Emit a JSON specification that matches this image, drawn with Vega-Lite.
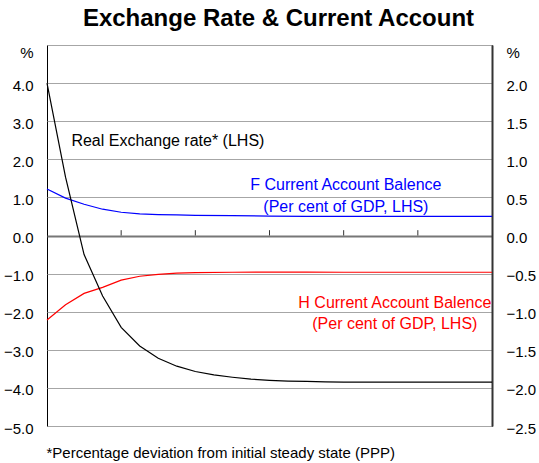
{
  "$schema": "https://vega.github.io/schema/vega-lite/v6.json",
  "width": 445,
  "height": 381,
  "autosize": {"type": "none"},
  "padding": {"left": 47, "top": 45, "right": 47, "bottom": 37},
  "config": {
    "font": "Liberation Sans",
    "view": {"stroke": "black", "strokeWidth": 1}
  },
  "title": {
    "text": "Exchange Rate & Current Account",
    "font": "Liberation Sans",
    "fontSize": 24,
    "fontWeight": "bold",
    "color": "black",
    "anchor": "middle",
    "baseline": "alphabetic",
    "frame": "group",
    "offset": -8,
    "dx": 9
  },
  "datasets": {
    "series": [
      {"x": 0, "value": 1.22, "series": "F"},
      {"x": 0.25, "value": 0.98, "series": "F"},
      {"x": 0.5, "value": 0.82, "series": "F"},
      {"x": 0.75, "value": 0.69, "series": "F"},
      {"x": 1, "value": 0.61, "series": "F"},
      {"x": 1.25, "value": 0.57, "series": "F"},
      {"x": 1.5, "value": 0.55, "series": "F"},
      {"x": 1.75, "value": 0.54, "series": "F"},
      {"x": 2, "value": 0.53, "series": "F"},
      {"x": 2.5, "value": 0.52, "series": "F"},
      {"x": 3, "value": 0.51, "series": "F"},
      {"x": 3.5, "value": 0.5, "series": "F"},
      {"x": 4, "value": 0.5, "series": "F"},
      {"x": 5, "value": 0.5, "series": "F"},
      {"x": 6, "value": 0.5, "series": "F"},
      {"x": 0, "value": -2.22, "series": "H"},
      {"x": 0.25, "value": -1.82, "series": "H"},
      {"x": 0.5, "value": -1.52, "series": "H"},
      {"x": 0.75, "value": -1.36, "series": "H"},
      {"x": 1, "value": -1.17, "series": "H"},
      {"x": 1.25, "value": -1.07, "series": "H"},
      {"x": 1.5, "value": -1.02, "series": "H"},
      {"x": 1.75, "value": -0.99, "series": "H"},
      {"x": 2, "value": -0.975, "series": "H"},
      {"x": 2.5, "value": -0.965, "series": "H"},
      {"x": 3, "value": -0.96, "series": "H"},
      {"x": 3.5, "value": -0.96, "series": "H"},
      {"x": 4, "value": -0.965, "series": "H"},
      {"x": 5, "value": -0.965, "series": "H"},
      {"x": 6, "value": -0.965, "series": "H"},
      {"x": 0, "value": 4.0, "series": "R"},
      {"x": 0.25, "value": 1.53, "series": "R"},
      {"x": 0.5, "value": -0.5, "series": "R"},
      {"x": 0.75, "value": -1.59, "series": "R"},
      {"x": 1, "value": -2.41, "series": "R"},
      {"x": 1.25, "value": -2.9, "series": "R"},
      {"x": 1.5, "value": -3.22, "series": "R"},
      {"x": 1.75, "value": -3.43, "series": "R"},
      {"x": 2, "value": -3.57, "series": "R"},
      {"x": 2.25, "value": -3.66, "series": "R"},
      {"x": 2.5, "value": -3.72, "series": "R"},
      {"x": 2.75, "value": -3.77, "series": "R"},
      {"x": 3, "value": -3.8, "series": "R"},
      {"x": 3.25, "value": -3.82, "series": "R"},
      {"x": 3.5, "value": -3.83, "series": "R"},
      {"x": 3.75, "value": -3.84, "series": "R"},
      {"x": 4, "value": -3.85, "series": "R"},
      {"x": 4.5, "value": -3.85, "series": "R"},
      {"x": 5, "value": -3.85, "series": "R"},
      {"x": 5.5, "value": -3.85, "series": "R"},
      {"x": 6, "value": -3.85, "series": "R"}
    ],
    "xticks": [{"t": 1}, {"t": 2}, {"t": 3}, {"t": 4}, {"t": 5}],
    "labels": [
      {"x": 1.63, "y": 2.49, "text": "Real Exchange rate* (LHS)", "series": "R"},
      {"x": 4.03, "y": 1.32, "text": "F Current Account Balence", "series": "F"},
      {"x": 4.03, "y": 0.75, "text": "(Per cent of GDP, LHS)", "series": "F"},
      {"x": 4.69, "y": -1.76, "text": "H Current Account Balence", "series": "H"},
      {"x": 4.69, "y": -2.31, "text": "(Per cent of GDP, LHS)", "series": "H"}
    ],
    "rhs": [{"r": -2.5}, {"r": 2.5}]
  },
  "layer": [
    {
      "data": {"name": "series"},
      "mark": {"type": "line", "strokeWidth": 1.2, "interpolate": "linear"},
      "encoding": {
        "x": {
          "field": "x", "type": "quantitative",
          "scale": {"domain": [0, 6], "nice": false, "zero": false},
          "axis": {
            "title": "*Percentage deviation from initial steady state (PPP)",
            "titleFont": "Liberation Sans",
            "titleFontSize": 15,
            "titleFontWeight": "normal",
            "titleColor": "black",
            "titleAnchor": "start",
            "titleAlign": "left",
            "titleBaseline": "alphabetic",
            "titleX": -1,
            "titleY": 31,
            "labels": false,
            "ticks": false,
            "domain": false,
            "grid": false
          }
        },
        "y": {
          "field": "value", "type": "quantitative",
          "scale": {"domain": [-5, 5], "nice": false, "zero": false},
          "axis": {
            "title": null,
            "values": [-5, -4, -3, -2, -1, 0, 1, 2, 3, 4, 5],
            "format": ".1f",
            "labelExpr": "datum.value == 5 ? '%' : datum.label",
            "ticks": false,
            "domain": false,
            "labelPadding": 14,
            "labelFont": "Liberation Sans",
            "labelFontSize": 15,
            "labelColor": "black",
            "labelOverlap": false,
            "labelBound": false,
            "labelFlush": false,
            "labelOffset": {"condition": {"test": "datum.value == 5", "value": 7}, "value": 2},
            "grid": true,
            "gridColor": {"condition": {"test": "datum.value == 0", "value": "#777777"}, "value": "#a6a6a6"},
            "gridWidth": {"condition": {"test": "datum.value == 0", "value": 2}, "value": 1}
          }
        },
        "color": {
          "field": "series", "type": "nominal",
          "scale": {"domain": ["F", "H", "R"], "range": ["#0000ff", "#ff0000", "#000000"]},
          "legend": null
        },
        "order": {"field": "x", "type": "quantitative"}
      }
    },
    {
      "data": {"name": "xticks"},
      "mark": {"type": "rule", "color": "#333333", "strokeWidth": 1},
      "encoding": {
        "x": {"field": "t", "type": "quantitative"},
        "y": {"datum": 0, "type": "quantitative", "scale": {"domain": [-5, 5], "nice": false, "zero": false}, "axis": null},
        "y2": {"datum": 0.14}
      }
    },
    {
      "data": {"name": "labels"},
      "mark": {"type": "text", "fontSize": 16, "font": "Liberation Sans", "baseline": "middle", "align": "center"},
      "encoding": {
        "x": {"field": "x", "type": "quantitative"},
        "y": {"field": "y", "type": "quantitative", "scale": {"domain": [-5, 5], "nice": false, "zero": false}, "axis": null},
        "text": {"field": "text"},
        "color": {
          "field": "series", "type": "nominal",
          "scale": {"domain": ["F", "H", "R"], "range": ["#0000ff", "#ff0000", "#000000"]},
          "legend": null
        }
      }
    },
    {
      "data": {"name": "rhs"},
      "mark": {"type": "point", "opacity": 0},
      "encoding": {
        "x": {"datum": 0, "type": "quantitative"},
        "y": {
          "field": "r", "type": "quantitative",
          "scale": {"domain": [-2.5, 2.5], "nice": false, "zero": false},
          "axis": {
            "orient": "right",
            "title": null,
            "values": [-2.5, -2, -1.5, -1, -0.5, 0, 0.5, 1, 1.5, 2, 2.5],
            "format": ".1f",
            "labelExpr": "datum.value == 2.5 ? '%' : datum.label",
            "ticks": false,
            "domain": true,
            "domainColor": "#333333",
            "domainWidth": 2,
            "grid": false,
            "labelPadding": 14,
            "labelFont": "Liberation Sans",
            "labelFontSize": 15,
            "labelColor": "black",
            "labelOverlap": false,
            "labelBound": false,
            "labelFlush": false,
            "labelOffset": {"condition": {"test": "datum.value == 2.5", "value": 7}, "value": 2}
          }
        }
      }
    }
  ],
  "resolve": {"scale": {"y": "independent"}}
}
